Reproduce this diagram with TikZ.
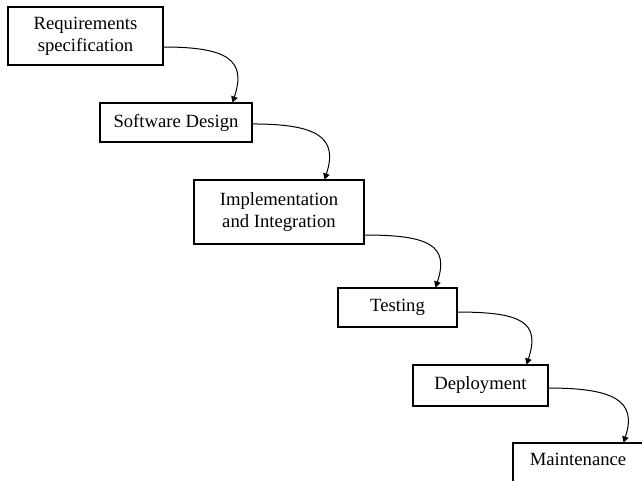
\documentclass[tikz,border=0pt]{standalone}
\usepackage{fontspec}
\setmainfont{Liberation Serif}
\usetikzlibrary{arrows.meta}
\begin{document}
\begin{tikzpicture}[x=0.75pt,y=0.75pt,
  box/.style={draw, line width=0.8pt, inner sep=0pt, align=center,
    font=\fontsize{14}{16.5}\selectfont},
  flow/.style={line width=0.75pt, -{Triangle[width=5pt,length=4.5pt]}}]
\useasboundingbox (0,0) rectangle (642,-481);
\clip (0,0) rectangle (642,-481);
\node[box, minimum width=116.25pt, minimum height=43.5pt] (req) at (85.5,-36) {Requirements\\specification};
\node[box, minimum width=114pt, minimum height=29.25pt] (sd) at (176,-122.5) {Software Design};
\node[box, minimum width=127.5pt, minimum height=48pt] (impl) at (279,-212) {Implementation\\and Integration};
\node[box, minimum width=89.25pt, minimum height=29.25pt] (test) at (397.5,-307.5) {Testing};
\node[box, minimum width=101.25pt, minimum height=30.75pt] (dep) at (480.5,-385.5) {Deployment};
\node[box, minimum width=97.5pt, minimum height=30pt, text depth=6pt] (maint) at (578,-463) {Maintenance};
\draw[flow] ([yshift=-8.25pt]req.east) .. controls +(65,0) and +(14,42) .. ([xshift=-15pt]sd.north east);
\draw[flow] ([yshift=-1.1pt]sd.east) .. controls +(65,0) and +(14,42) .. ([xshift=-30pt]impl.north east);
\draw[flow] ([yshift=-17.25pt]impl.east) .. controls +(65,0) and +(14,42) .. ([xshift=-16.5pt]test.north east);
\draw[flow] ([yshift=-3.4pt]test.east) .. controls +(65,0) and +(14,42) .. ([xshift=-16.5pt]dep.north east);
\draw[flow] ([yshift=-1.9pt]dep.east) .. controls +(65,0) and +(14,42) .. ([xshift=-15pt]maint.north east);
\end{tikzpicture}
\end{document}
